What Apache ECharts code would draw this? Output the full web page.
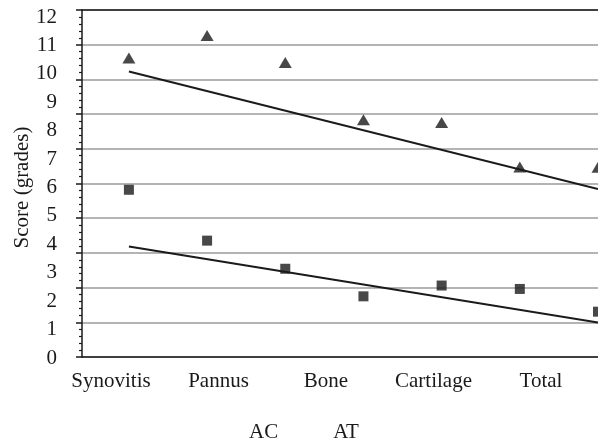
<!DOCTYPE html>
<html>
<head>
<meta charset="utf-8">
<script src="https://cdn.jsdelivr.net/npm/echarts@6/dist/echarts.min.js"></script>
<style>
  html, body { margin: 0; padding: 0; background: #fff; }
  #chart { width: 598px; height: 440px; }
</style>
</head>
<body>
<div id="chart"></div>
<script>
  // category labels under the plot
  const categories = ['Synovitis', 'Pannus', 'Bone', 'Cartilage', 'Total']
  // marker positions along the x direction
  const positions = [1, 2, 3, 4, 5, 6, 7]
  // scores
  const acScores = [5.92, 4.13, 3.14, 2.17, 2.55, 2.43, 1.63]   // squares
  const atScores = [10.56, 11.35, 10.40, 8.38, 8.29, 6.72, 6.71] // triangles
  // trend lines, start and end
  const acTrend = [[1, 3.92], [7, 1.25]]
  const atTrend = [[1, 10.08], [7, 5.95]]

  const font = 'Liberation Serif'
  const ink = '#1a1a1a'

  const myChart = echarts.init(document.getElementById('chart'))
  myChart.setOption({
    animation: false,
    textStyle: { fontFamily: font },
    legend: {
      data: ['AC', 'AT'],
      icon: 'none',
      itemWidth: 0,
      itemGap: 50,
      left: 239,
      top: 417,
      textStyle: { fontFamily: font, fontSize: 21, color: ink }
    },
    grid: [
      // frame with gridlines
      { left: 82, right: 0, top: 10, bottom: 83 },
      // data + tick labels
      { left: 82, right: 0, top: 17, bottom: 82 },
      // category labels
      { left: 111, right: 57, top: 10, bottom: 83 }
    ],
    xAxis: [
      {
        gridIndex: 0, type: 'value', min: 0, max: 1, position: 'bottom',
        axisLine: { show: true, lineStyle: { color: ink, width: 1.5 } },
        axisTick: { show: false }, axisLabel: { show: false }, splitLine: { show: false }
      },
      {
        gridIndex: 0, type: 'value', min: 0, max: 1, position: 'top',
        axisLine: { show: true, lineStyle: { color: ink, width: 1.5 } },
        axisTick: { show: false }, axisLabel: { show: false }, splitLine: { show: false }
      },
      {
        gridIndex: 1, type: 'value', min: 0.4, max: 7, show: false
      },
      {
        gridIndex: 2, type: 'category', boundaryGap: false, data: categories,
        axisLine: { show: false }, axisTick: { show: false }, splitLine: { show: false },
        axisLabel: { margin: 14, fontFamily: font, fontSize: 21, color: ink }
      }
    ],
    yAxis: [
      {
        gridIndex: 0, type: 'value', min: 0, max: 10, interval: 1,
        axisLine: { show: true, lineStyle: { color: ink, width: 1.5 } },
        axisTick: { show: true, inside: false, length: 6, lineStyle: { color: ink, width: 1.5 } },
        minorTick: { show: true, splitNumber: 5, length: 3, lineStyle: { color: ink, width: 1.2 } },
        axisLabel: { show: false },
        splitLine: { show: true, lineStyle: { color: '#b4b4b4', width: 2 } }
      },
      {
        gridIndex: 1, type: 'value', min: 0, max: 12, interval: 1,
        name: 'Score (grades)', nameLocation: 'middle', nameGap: 49, nameMoveOverlap: false,
        nameTextStyle: { fontFamily: font, fontSize: 21, color: ink },
        axisLine: { show: false }, axisTick: { show: false }, splitLine: { show: false },
        axisLabel: { margin: 25, fontFamily: font, fontSize: 21, color: ink }
      },
      { gridIndex: 2, type: 'value', min: 0, max: 1, show: false }
    ],
    series: [
      {
        name: 'AC', type: 'scatter', xAxisIndex: 2, yAxisIndex: 1, clip: false,
        symbol: 'rect', symbolSize: 10,
        itemStyle: { color: ink },
        data: positions.map((p, i) => [p, acScores[i]])
      },
      {
        name: 'AT', type: 'scatter', xAxisIndex: 2, yAxisIndex: 1, clip: false,
        symbol: 'triangle', symbolSize: [13, 11],
        itemStyle: { color: ink },
        data: positions.map((p, i) => [p, atScores[i]])
      },
      {
        name: 'AC trend', type: 'line', xAxisIndex: 2, yAxisIndex: 1, clip: false,
        symbol: 'none', lineStyle: { color: ink, width: 2 },
        data: acTrend
      },
      {
        name: 'AT trend', type: 'line', xAxisIndex: 2, yAxisIndex: 1, clip: false,
        symbol: 'none', lineStyle: { color: ink, width: 2 },
        data: atTrend
      }
    ]
  })
</script>
</body>
</html>
